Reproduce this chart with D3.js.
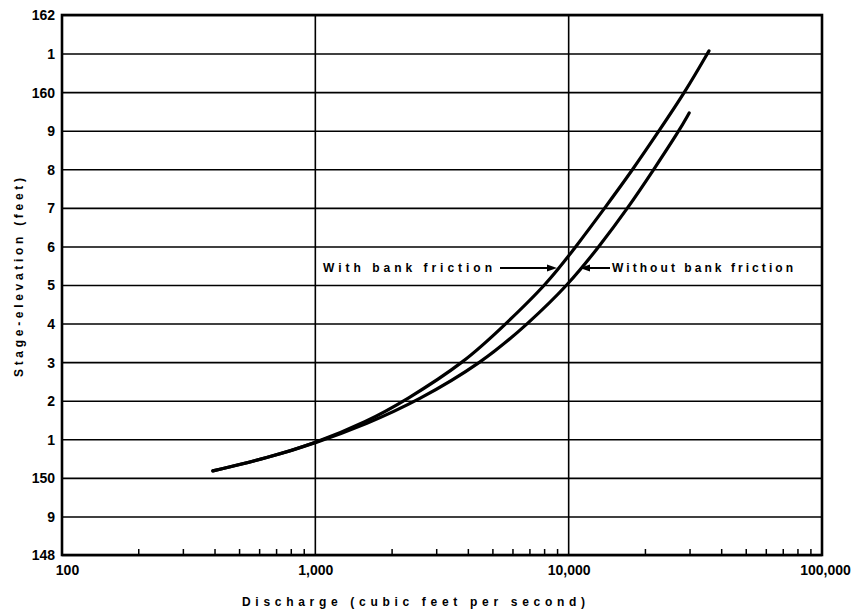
<!DOCTYPE html>
<html>
<head>
<meta charset="utf-8">
<script src="https://cdn.jsdelivr.net/npm/d3@7"></script>
<style>
  html, body { margin: 0; padding: 0; background: #fff; }
  svg { display: block; }
  text { font-family: "Liberation Sans", Arial, sans-serif; font-weight: bold; fill: #000; }
</style>
</head>
<body>
<svg id="chart" width="860" height="609"></svg>
<script>
// ---- data ----
const stageTicks = [148,149,150,151,152,153,154,155,156,157,158,159,160,161,162];
const stageTickLabels = ["148","9","150","1","2","3","4","5","6","7","8","9","160","1","162"];
const dischargeTicks = [100, 1000, 10000, 100000];
const dischargeTickLabels = ["100", "1,000", "10,000", "100,000"];

const withFrictionQ =     [394, 650, 1000, 1600, 2260, 3900, 5660, 8140, 10700, 13900, 17950, 22750, 28800, 35800];
const withFrictionStage = [150.18, 150.52, 150.9, 151.46, 152.0, 153.0, 154.0, 155.0, 156.0, 157.0, 158.0, 159.0, 160.0, 161.07];

const withoutFrictionQ =     [394, 650, 1000, 1600, 2540, 4590, 6920, 9950, 13200, 17150, 21700, 27300, 29900];
const withoutFrictionStage = [150.18, 150.52, 150.9, 151.4, 152.0, 153.0, 154.0, 155.0, 156.0, 157.0, 158.0, 159.0, 159.46];

const xTitle = "Discharge (cubic feet per second)";
const yTitle = "Stage-elevation (feet)";
const labelWith = "With bank friction";
const labelWithout = "Without bank friction";

// ---- layout ----
const svg = d3.select("#chart");
const L = 62, R = 822, T = 15, B = 555;
const x = d3.scaleLog().domain([100, 100000]).range([L, R]);
const y = d3.scaleLinear().domain([148, 162]).range([B, T]);

// horizontal gridlines + y labels
const yAxis = d3.axisLeft(y)
  .tickValues(stageTicks)
  .tickFormat((d, i) => stageTickLabels[i])
  .tickSize(-(R - L))
  .tickPadding(7);
const gy = svg.append("g").attr("transform", `translate(${L},0)`).call(yAxis);
gy.select(".domain").remove();
gy.selectAll("line").attr("stroke", "#000").attr("stroke-width", 1.6);
gy.selectAll("text").style("font-size", "14px").attr("dy", "0.35em");

// vertical gridlines at decades
svg.append("g").selectAll("line")
  .data(dischargeTicks.slice(1, 3))
  .join("line")
  .attr("x1", d => x(d)).attr("x2", d => x(d))
  .attr("y1", T).attr("y2", B)
  .attr("stroke", "#000").attr("stroke-width", 1.6);

// minor ticks on bottom axis
const minor = [];
[100, 1000, 10000].forEach(dec => { for (let k = 2; k <= 9; k++) minor.push(dec * k); });
const minorAxis = d3.axisBottom(x).tickValues(minor).tickFormat("").tickSize(-6);
const gm = svg.append("g").attr("transform", `translate(0,${B})`).call(minorAxis);
gm.select(".domain").remove();
gm.selectAll("line").attr("stroke", "#000").attr("stroke-width", 1.5);

// x axis labels
const xAxis = d3.axisBottom(x)
  .tickValues(dischargeTicks)
  .tickFormat((d, i) => dischargeTickLabels[i])
  .tickSize(0)
  .tickPadding(10);
const gx = svg.append("g").attr("transform", `translate(0,${B})`).call(xAxis);
gx.select(".domain").remove();
gx.selectAll("text").style("font-size", "14px");
gx.selectAll("text").filter((d) => d === 100).attr("dx", 5);
gx.selectAll("text").filter((d) => d === 100000).attr("dx", 3);

// frame
svg.append("rect")
  .attr("x", L).attr("y", T).attr("width", R - L).attr("height", B - T)
  .attr("fill", "none").attr("stroke", "#000").attr("stroke-width", 2.6);

// curves
const line = d3.line().x(d => x(d[0])).y(d => y(d[1])).curve(d3.curveBasis);
const withData = withFrictionQ.map((q, i) => [q, withFrictionStage[i]]);
const withoutData = withoutFrictionQ.map((q, i) => [q, withoutFrictionStage[i]]);
[withData, withoutData].forEach(dat => {
  svg.append("path").datum(dat).attr("d", line)
    .attr("fill", "none").attr("stroke", "#000")
    .attr("stroke-width", 3.2).attr("stroke-linecap", "round");
});

// annotations
const ay = 268;
svg.append("text").attr("x", 323).attr("y", ay + 4)
  .attr("textLength", 169).attr("lengthAdjust", "spacing")
  .style("font-size", "12px").text(labelWith);
svg.append("line").attr("x1", 500).attr("x2", 550).attr("y1", ay).attr("y2", ay)
  .attr("stroke", "#000").attr("stroke-width", 2);
svg.append("path").attr("d", `M557,${ay} L547,${ay-3.5} L547,${ay+3.5} Z`).attr("fill", "#000");

svg.append("line").attr("x1", 587).attr("x2", 610).attr("y1", ay).attr("y2", ay)
  .attr("stroke", "#000").attr("stroke-width", 2);
svg.append("path").attr("d", `M580,${ay} L590,${ay-3.5} L590,${ay+3.5} Z`).attr("fill", "#000");
svg.append("text").attr("x", 612).attr("y", ay + 4)
  .attr("textLength", 181).attr("lengthAdjust", "spacing")
  .style("font-size", "12px").text(labelWithout);

// axis titles
svg.append("text").attr("x", 242).attr("y", 606)
  .attr("textLength", 343).attr("lengthAdjust", "spacing")
  .style("font-size", "12px").text(xTitle);
svg.append("text")
  .attr("transform", "translate(23,377) rotate(-90)")
  .attr("x", 0).attr("y", 0)
  .attr("textLength", 199).attr("lengthAdjust", "spacing")
  .style("font-size", "12px").text(yTitle);
</script>
</body>
</html>
